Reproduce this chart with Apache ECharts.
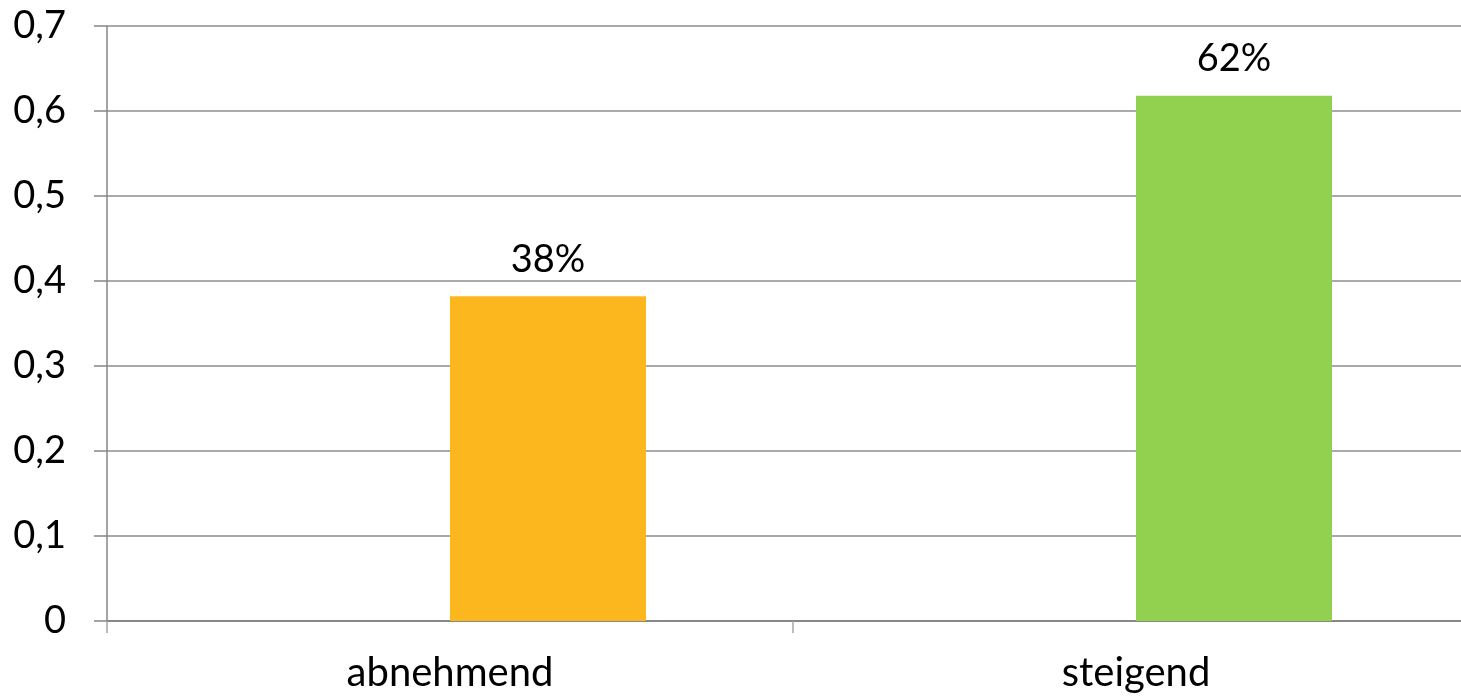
<!DOCTYPE html>
<html>
<head>
<meta charset="utf-8">
<script src="https://cdn.jsdelivr.net/npm/echarts@6/dist/echarts.min.js"></script>
<style>
  html, body { margin: 0; padding: 0; background: #ffffff; }
  #chart { width: 1461px; height: 698px; }
</style>
</head>
<body>
<div id="chart"></div>
<script>
// Data
const categories = ['abnehmend', 'steigend'];
const emptySeriesValues = [null, null];
const shareValues = [0.382, 0.618];
const barColors = ['#FDB71E', '#92D050'];
const dataLabels = ['38%', '62%'];
const yTickValues = [0, 0.1, 0.2, 0.3, 0.4, 0.5, 0.6, 0.7];
const yTickLabels = ['0', '0,1', '0,2', '0,3', '0,4', '0,5', '0,6', '0,7'];

const FONT = 'Lato';
const chart = echarts.init(document.getElementById('chart'), null, { renderer: 'canvas' });

const option = {
  animation: false,
  backgroundColor: '#ffffff',
  grid: { left: 107, width: 1372, top: 26, height: 595, containLabel: false, outerBoundsMode: 'none' },
  xAxis: {
    type: 'category',
    data: categories,
    boundaryGap: true,
    axisLine: { show: true, lineStyle: { color: '#878787', width: 2 } },
    axisTick: { show: true, length: 12, alignWithLabel: false, lineStyle: { color: '#A6A6A6', width: 1.5 } },
    axisLabel: { color: '#000000', fontFamily: FONT, fontSize: 40, margin: 32 },
    splitLine: { show: false }
  },
  yAxis: {
    type: 'value',
    min: 0,
    max: 0.7,
    interval: 0.1,
    axisLine: { show: true, lineStyle: { color: '#878787', width: 1.5 } },
    axisTick: { show: true, length: 13, lineStyle: { color: '#878787', width: 1.5 } },
    axisLabel: {
      color: '#000000', fontFamily: FONT, fontSize: 38, margin: 41,
      formatter: function (v) {
        const i = yTickValues.findIndex(t => Math.abs(t - v) < 1e-6);
        return i >= 0 ? yTickLabels[i] : '';
      }
    },
    splitLine: { show: true, lineStyle: { color: '#8C8C8C', width: 1.5 } }
  },
  series: [
    {
      type: 'bar',
      data: emptySeriesValues,
      barWidth: 196,
      barGap: '0%',
      itemStyle: { color: '#FFFFFF' }
    },
    {
      type: 'bar',
      barWidth: 196,
      barGap: '0%',
      data: shareValues.map((v, i) => ({
        value: v,
        itemStyle: { color: barColors[i] },
        label: {
          show: true,
          position: 'top',
          distance: 18,
          formatter: dataLabels[i],
          color: '#000000',
          fontFamily: FONT,
          fontSize: 38
        }
      }))
    }
  ]
};
chart.setOption(option);
</script>
</body>
</html>
